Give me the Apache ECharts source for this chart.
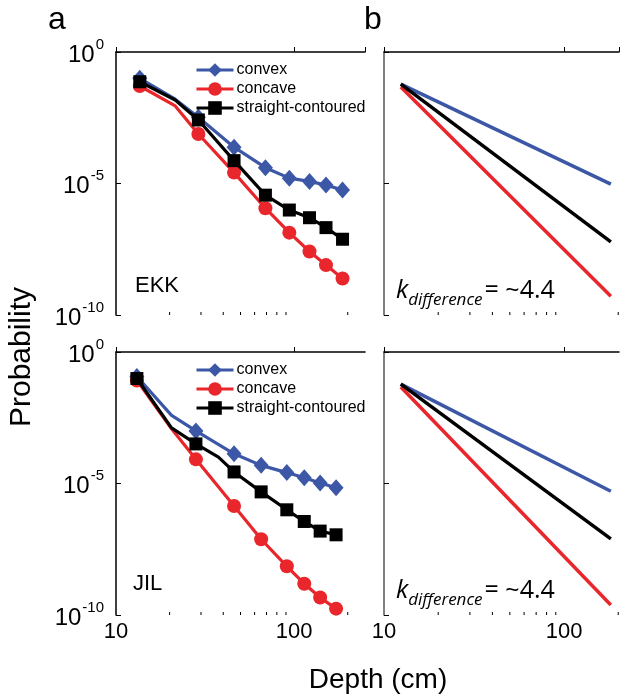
<!DOCTYPE html>
<html>
<head>
<meta charset="utf-8">
<script src="https://cdn.jsdelivr.net/npm/echarts@6/dist/echarts.min.js"></script>
<style>html,body{margin:0;padding:0;background:#fff}#c{width:625px;height:697px}</style>
</head>
<body>
<div id="c"></div>
<script>
// ---- data ----
const seriesNames = ['convex', 'concave', 'straight-contoured'];
const colors = ['#3c57a6', '#e8262b', '#000000'];
const symbols = ['diamond', 'circle', 'rect'];

// EKK (top-left) — depth (cm) and probability
const ekkDepth = [13.6, 21.5, 29, 46, 69, 94, 122, 151, 187];
const ekkConvex = [1.0e-1, 1.6e-2, 3.3e-3, 2.4e-4, 4.0e-5, 1.6e-5, 1.2e-5, 8.7e-6, 5.6e-6];
const ekkConcave = [5.1e-2, 8.9e-3, 7.6e-4, 2.6e-5, 1.15e-6, 1.35e-7, 2.6e-8, 7.9e-9, 2.45e-9];
const ekkStraight = [7.4e-2, 1.5e-2, 2.6e-3, 7.4e-5, 3.6e-6, 9.8e-7, 5.0e-7, 2.1e-7, 7.6e-8];
const ekkUnmarked = [1];

// JIL (bottom-left)
const jilDepth = [13.1, 20.5, 28.1, 46, 65.3, 91, 114, 140, 172];
const jilConvex = [1.17e-1, 3.9e-3, 1.0e-3, 1.35e-4, 4.9e-5, 2.6e-5, 1.66e-5, 1.05e-5, 6.9e-6];
const jilConcave = [8.3e-2, 1.2e-3, 8.3e-5, 1.4e-6, 7.6e-8, 7.1e-9, 1.55e-9, 4.6e-10, 1.74e-10];
const jilStraightDepth = [13.1, 20.5, 28.1, 37.6, 46, 65.3, 91, 114, 140, 172];
const jilStraight = [9.8e-2, 1.3e-3, 3.2e-4, 1.0e-4, 2.75e-5, 4.8e-6, 1.0e-6, 3.6e-7, 1.55e-7, 1.12e-7];
const jilUnmarked = [1];
const jilStraightUnmarked = [1, 3];

// Fitted power-law lines (right panels)
const fitDepth = [12.4, 182];
const ekkFitConvex = [6.0e-2, 9.5e-6];
const ekkFitStraight = [6.0e-2, 6.0e-8];
const ekkFitConcave = [4.7e-2, 5.2e-10];
const jilFitConvex = [6.0e-2, 5.1e-6];
const jilFitStraight = [6.0e-2, 7.8e-8];
const jilFitConcave = [4.7e-2, 2.4e-10];

// axes
const xMinLeft = 10, xMaxLeft = 250, xMinRight = 10, xMaxRight = 202;
const yMin = 1e-10, yMax = 1;
const yExpMin = -10, yExpMax = 0, yExpStep = 5;   // tick labels 10^-10, 10^-5, 10^0
const xMinorTicks = [20, 30, 40, 50, 60, 70, 80, 90, 200];
const panelLabels = ['EKK', 'JIL'];
const kText = '~4.4';

// ---- chart ----
const FONT = 'Liberation Sans, Arial, Helvetica, sans-serif';
const chart = echarts.init(document.getElementById('c'), null, {renderer: 'canvas'});

const grids = [
  {left: 116, top: 52, width: 249, height: 263},
  {left: 116, top: 352, width: 249, height: 263},
  {left: 384, top: 52, width: 235, height: 263},
  {left: 384, top: 352, width: 235, height: 263}
];

const xAxes = grids.map((g, i) => ({
  type: 'log', gridIndex: i, logBase: 10,
  min: i < 2 ? xMinLeft : xMinRight, max: i < 2 ? xMaxLeft : xMaxRight,
  axisLine: {show: true, lineStyle: {color: '#000', width: 1.5}},
  axisTick: {show: true, inside: true, length: 5, lineStyle: {color: '#000'}},
  splitLine: {show: false},
  axisLabel: {show: i === 1 || i === 3, fontFamily: FONT, fontSize: 22, color: '#000', margin: 6,
    showMinLabel: true, showMaxLabel: false,
    formatter: v => String(Math.round(v))}
}));

const yAxes = [];
grids.forEach((g, i) => {
  // data axis (log)
  yAxes.push({
    type: 'log', gridIndex: i, logBase: 10, min: yMin, max: yMax, position: 'left',
    axisLine: {show: true, lineStyle: {color: i < 2 ? '#000' : '#555', width: 1.5}},
    axisTick: {show: false}, splitLine: {show: false}, axisLabel: {show: false}
  });
  // exponent axis carrying the decade labels/ticks
  yAxes.push({
    type: 'value', gridIndex: i, min: yExpMin, max: yExpMax, interval: yExpStep, position: 'left', offset: 0,
    axisLine: {show: false},
    axisTick: {show: true, inside: true, length: 5, lineStyle: {color: '#000'}},
    splitLine: {show: false},
    axisLabel: {show: i < 2, margin: 12, color: '#000',
      formatter: v => '{b|10}{s|' + Math.round(v) + '}',
      rich: {
        b: {fontFamily: FONT, fontSize: 24, color: '#000', lineHeight: 30, verticalAlign: 'bottom'},
        s: {fontFamily: FONT, fontSize: 15, color: '#000', lineHeight: 30, verticalAlign: 'top', padding: [0, 0, 0, 1]}
      }}
  });
});

function pts(xs, ys, unmarked) {
  return xs.map((x, k) => unmarked.indexOf(k) >= 0
    ? {value: [x, ys[k]], symbol: 'none'}
    : [x, ys[k]]);
}

const series = [];
const leftSets = [
  {g: 0, data: [pts(ekkDepth, ekkConvex, ekkUnmarked), pts(ekkDepth, ekkConcave, ekkUnmarked), pts(ekkDepth, ekkStraight, ekkUnmarked)]},
  {g: 1, data: [pts(jilDepth, jilConvex, jilUnmarked), pts(jilDepth, jilConcave, jilUnmarked), pts(jilStraightDepth, jilStraight, jilStraightUnmarked)]}
];
const symSizes = [[15, 17], 14, 13];
leftSets.forEach(set => {
  set.data.forEach((d, k) => {
    series.push({
      name: seriesNames[k], type: 'line', xAxisIndex: set.g, yAxisIndex: set.g * 2,
      data: d, symbol: symbols[k], symbolSize: symSizes[k], showAllSymbol: true,
      lineStyle: {color: colors[k], width: 3.2},
      itemStyle: {color: colors[k]},
      z: k === 2 ? 3 : 2,
      animation: false, silent: true
    });
  });
});
const rightSets = [
  {g: 2, ys: [ekkFitConvex, ekkFitConcave, ekkFitStraight]},
  {g: 3, ys: [jilFitConvex, jilFitConcave, jilFitStraight]}
];
rightSets.forEach(set => {
  set.ys.forEach((ys, k) => {
    series.push({
      name: 'fit-' + seriesNames[k], type: 'line', xAxisIndex: set.g, yAxisIndex: set.g * 2,
      data: fitDepth.map((x, j) => [x, ys[j]]), symbol: 'none',
      lineStyle: {color: colors[k], width: 3.5}, animation: false, silent: true,
      z: k === 2 ? 3 : 2
    });
  });
});
// minor x ticks (log decades 2..9), placed with the axes' own scales
[0, 1, 2, 3].forEach(g => {
  series.push({
    type: 'custom', xAxisIndex: g, yAxisIndex: g * 2, silent: true, animation: false, clip: false,
    data: xMinorTicks.filter(t => t <= (g < 2 ? xMaxLeft : xMaxRight)).map(t => [t, yMin]),
    renderItem: (params, api) => {
      const p = api.coord([api.value(0), api.value(1)]);
      return {type: 'line', shape: {x1: p[0], y1: p[1], x2: p[0], y2: p[1] - 3},
        style: {stroke: '#000', lineWidth: 1}};
    }
  });
});

const legends = [57, 357].map(top => ({
  top: top, left: 190, orient: 'vertical', itemWidth: 37, itemHeight: 17, itemGap: 3,
  data: seriesNames, selectedMode: false,
  lineStyle: {width: 3},
  textStyle: {fontFamily: FONT, fontSize: 16, color: '#000', padding: [0, 0, 0, -2]}
}));

const kRich = {
  k: {fontFamily: 'Open Sans, sans-serif', fontStyle: 'italic', fontSize: 25, color: '#000', lineHeight: 30, verticalAlign: 'bottom'},
  d: {fontFamily: 'Open Sans, sans-serif', fontStyle: 'italic', fontSize: 17, color: '#000', lineHeight: 24, verticalAlign: 'bottom', padding: [0, 2, -6, 0]},
  r: {fontFamily: 'Open Sans, sans-serif', fontSize: 25, color: '#000', lineHeight: 30, verticalAlign: 'bottom'}
};

const graphic = [
  {type: 'text', left: 48, top: 4, style: {text: 'a', font: '32px ' + FONT, fill: '#000'}},
  {type: 'text', left: 364, top: 4, style: {text: 'b', font: '32px ' + FONT, fill: '#000'}},
  {type: 'text', left: 135, top: 275, style: {text: panelLabels[0], font: '22px ' + FONT, fill: '#000'}},
  {type: 'text', left: 133, top: 573, style: {text: panelLabels[1], font: '22px ' + FONT, fill: '#000'}},
  {type: 'text', left: 396, top: 278, style: {text: '{k|k}{d|difference}{r|= ' + kText + '}', rich: kRich}},
  {type: 'text', left: 396, top: 578, style: {text: '{k|k}{d|difference}{r|= ' + kText + '}', rich: kRich}},
  {type: 'text', x: 22, y: 357, rotation: Math.PI / 2, style: {text: 'Probability', font: '30px ' + FONT, fill: '#000', align: 'center', verticalAlign: 'middle'}},
  {type: 'text', x: 378, y: 680, style: {text: 'Depth (cm)', font: '28px ' + FONT, fill: '#000', align: 'center', verticalAlign: 'middle'}}
];

chart.setOption({
  backgroundColor: '#fff',
  animation: false,
  grid: grids.map(g => Object.assign({containLabel: false}, g)),
  xAxis: xAxes,
  yAxis: yAxes,
  legend: legends,
  series: series,
  graphic: graphic
});
</script>
</body>
</html>
